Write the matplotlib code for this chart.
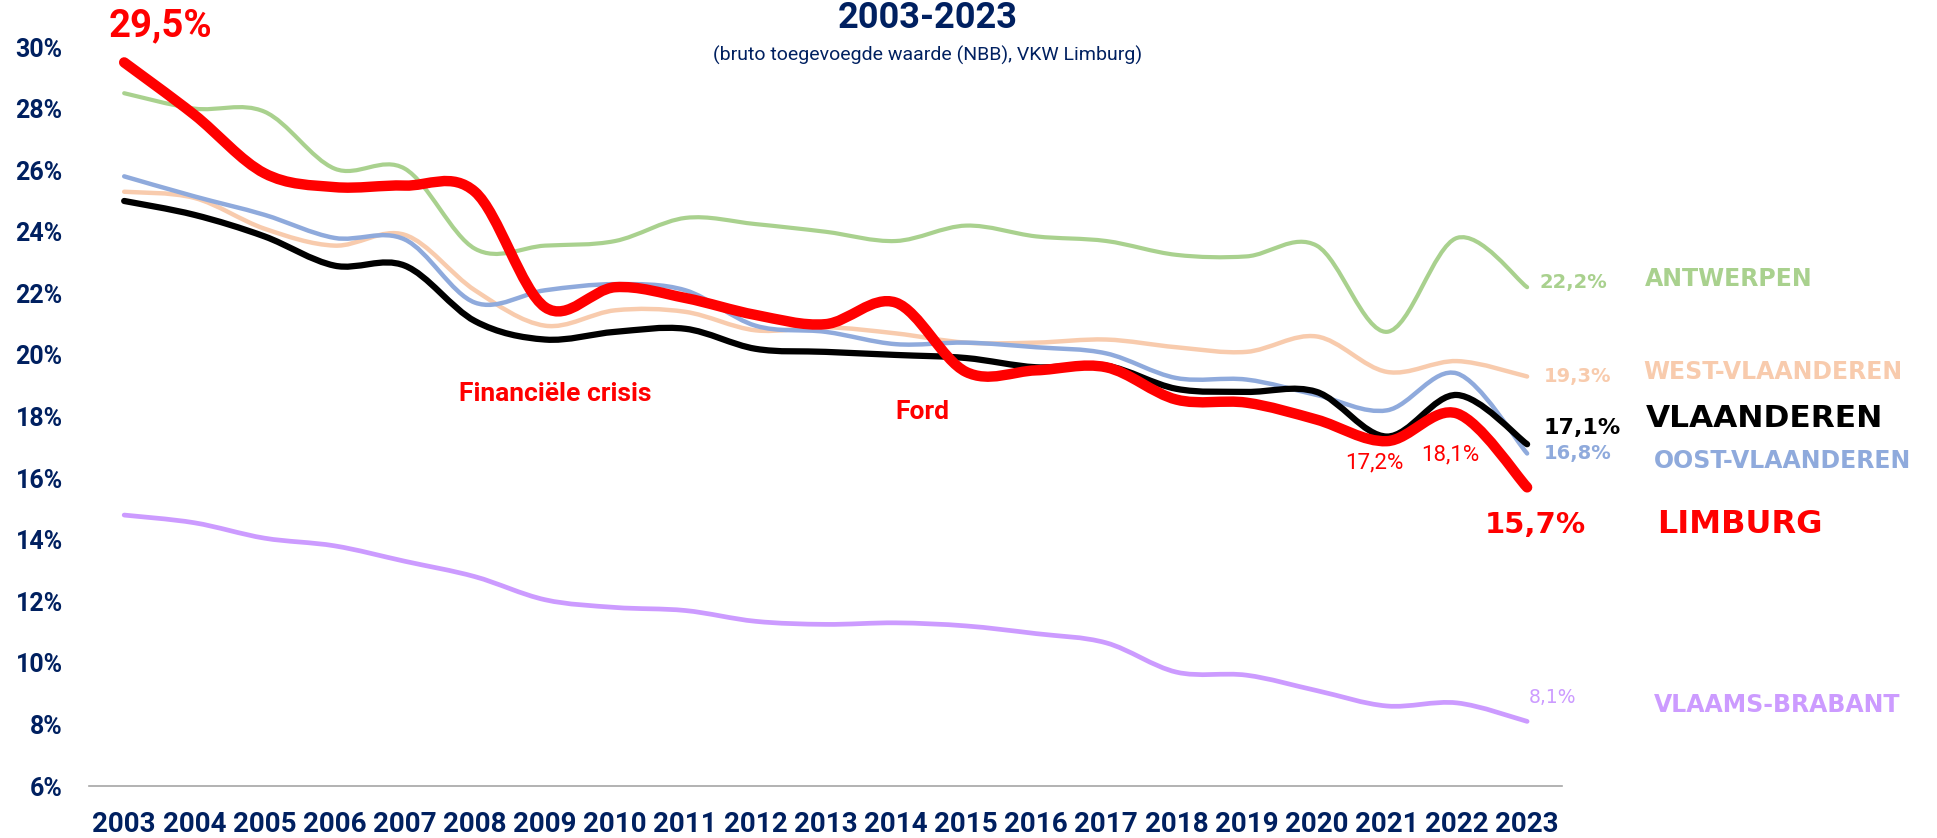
#Librerias
import numpy as np
import matplotlib
matplotlib.use('Agg')
import matplotlib.pyplot as plt
from matplotlib.path import Path
from matplotlib.patches import PathPatch

#Data (aandeel industrie in bruto toegevoegde waarde, %)
jaren = list(range(2003, 2024))
limburg = [29.5, 27.8, 25.9, 25.45, 25.5, 25.3, 21.55, 22.2, 21.85, 21.3, 21.0,
           21.7, 19.45, 19.5, 19.6, 18.55, 18.45, 17.9, 17.2, 18.1, 15.7]
vlaanderen = [25.0, 24.55, 23.85, 22.9, 22.9, 21.1, 20.5, 20.75, 20.85, 20.2, 20.1,
              20.0, 19.9, 19.6, 19.65, 18.9, 18.8, 18.8, 17.35, 18.7, 17.1]
antwerpen = [28.5, 28.0, 27.9, 26.05, 26.05, 23.45, 23.55, 23.7, 24.45, 24.25, 24.0,
             23.7, 24.2, 23.85, 23.7, 23.25, 23.2, 23.55, 20.75, 23.8, 22.2]
oost_vl = [25.8, 25.15, 24.55, 23.8, 23.75, 21.7, 22.1, 22.3, 22.1, 20.95, 20.75,
           20.35, 20.4, 20.25, 20.05, 19.25, 19.2, 18.7, 18.2, 19.4, 16.8]
west_vl = [25.3, 25.1, 24.1, 23.55, 23.9, 22.1, 20.95, 21.45, 21.4, 20.8, 20.9,
           20.7, 20.4, 20.4, 20.5, 20.25, 20.1, 20.6, 19.45, 19.8, 19.3]
vl_brabant = [14.8, 14.55, 14.05, 13.8, 13.3, 12.8, 12.05, 11.8, 11.7, 11.35, 11.25,
              11.3, 11.2, 10.95, 10.65, 9.7, 9.6, 9.1, 8.6, 8.7, 8.1]

y_ticks = [6, 8, 10, 12, 14, 16, 18, 20, 22, 24, 26, 28, 30]
y_labels = [str(t) + '%' for t in y_ticks]

navy = '#002060'
smal = ['Roboto', 'DejaVu Sans']
breed = ['DejaVu Sans']


def gladde_lijn(ax, x, y, kleur, dikte, z):
    # Excel-achtige gladde lijn (bezier door de punten)
    px = np.concatenate([[x[0]], x, [x[-1]]]).astype(float)
    py = np.concatenate([[y[0]], y, [y[-1]]]).astype(float)
    verts = [(px[1], py[1])]
    codes = [Path.MOVETO]
    for i in range(1, len(px) - 2):
        c1 = (px[i] + (px[i + 1] - px[i - 1]) / 6, py[i] + (py[i + 1] - py[i - 1]) / 6)
        c2 = (px[i + 1] - (px[i + 2] - px[i]) / 6, py[i + 1] - (py[i + 2] - py[i]) / 6)
        verts += [c1, c2, (px[i + 1], py[i + 1])]
        codes += [Path.CURVE4] * 3
    ax.add_patch(PathPatch(Path(verts, codes), facecolor='none', edgecolor=kleur,
                           lw=dikte, capstyle='round', joinstyle='round', zorder=z))


fig = plt.figure(figsize=(19.37, 8.38), dpi=100)
ax = fig.add_axes([0.046, 0.062, 0.7605, 0.8819])

gladde_lijn(ax, jaren, vl_brabant, '#CC9BFF', 3.4, 2)
gladde_lijn(ax, jaren, antwerpen, '#A9D18E', 3.0, 3)
gladde_lijn(ax, jaren, west_vl, '#F8CBAD', 3.2, 4)
gladde_lijn(ax, jaren, oost_vl, '#8FAADC', 3.2, 5)
gladde_lijn(ax, jaren, vlaanderen, '#000000', 4.5, 6)
gladde_lijn(ax, jaren, limburg, '#FF0000', 7.5, 7)

ax.set_xlim(2002.5, 2023.5)
ax.set_ylim(6, 30)
ax.set_xticks(jaren)
ax.set_xticklabels([str(j) for j in jaren], fontsize=20, fontweight='bold',
                   color=navy, family=smal)
ax.set_yticks(y_ticks)
ax.set_yticklabels(y_labels, fontsize=18, fontweight='bold', color=navy, family=smal)
ax.tick_params(axis='both', length=0)
ax.tick_params(axis='y', pad=19)
ax.tick_params(axis='x', pad=18)
for s in ['top', 'right', 'left']:
    ax.spines[s].set_visible(False)
ax.spines['bottom'].set_color('#A6A6A6')
ax.spines['bottom'].set_linewidth(1.2)

#Titel
fig.text(0.479, 0.978, '2003-2023', ha='center', va='center', fontsize=26,
         fontweight='bold', color=navy, family=smal)
fig.text(0.479, 0.934, '(bruto toegevoegde waarde (NBB), VKW Limburg)', ha='center',
         va='center', fontsize=14, color=navy, family=smal)

#Waarden bij de punten
def waarde(tekst, x, y, dx, dy, kleur, grootte, ha='left', gewicht='bold', fam=breed):
    ax.annotate(tekst, xy=(x, y), xytext=(dx, dy), textcoords='offset points',
                ha=ha, va='center', fontsize=grootte, fontweight=gewicht,
                color=kleur, family=fam, annotation_clip=False)

waarde('29,5%', jaren[0], limburg[0], 26, 26, '#FF0000', 27.5, ha='center', fam=smal)
waarde('22,2%', jaren[-1], antwerpen[-1], 9, 3.5, '#A9D18E', 14)
waarde('19,3%', jaren[-1], west_vl[-1], 12, 0, '#F8CBAD', 14)
waarde('17,1%', jaren[-1], vlaanderen[-1], 11.5, 11.5, '#000000', 16)
waarde('16,8%', jaren[-1], oost_vl[-1], 12, 0, '#8FAADC', 14)
waarde('15,7%', jaren[-1], limburg[-1], 6, -27, '#FF0000', 21, ha='center')
waarde('8,1%', jaren[-1], vl_brabant[-1], 18, 17, '#CC9BFF', 13.5, ha='center', gewicht='normal')
waarde('17,2%', jaren[18], limburg[18], -9, -16, '#FF0000', 16, ha='center',
       gewicht='normal', fam=smal)
waarde('18,1%', jaren[19], limburg[19], -5, -30, '#FF0000', 16, ha='center',
       gewicht='normal', fam=smal)

#Namen rechts
namen = [('ANTWERPEN', 22.47, 1.056, '#A9D18E', 17),
         ('WEST-VLAANDEREN', 19.45, 1.055, '#F8CBAD', 17),
         ('VLAANDEREN', 17.95, 1.057, '#000000', 22.5),
         ('OOST-VLAANDEREN', 16.56, 1.0625, '#8FAADC', 17),
         ('LIMBURG', 14.48, 1.0645, '#FF0000', 23),
         ('VLAAMS-BRABANT', 8.64, 1.0625, '#CC9BFF', 17)]
for naam, yy, xx, kleur, grootte in namen:
    ax.text(xx, yy, naam, transform=ax.get_yaxis_transform(), ha='left', va='center',
            fontsize=grootte, fontweight='bold', color=kleur, family=breed, clip_on=False)

#Gebeurtenissen
ax.text(2009.14, 18.73, 'Financiële crisis', ha='center', va='center', fontsize=19,
        fontweight='bold', color='#FF0000', family=smal)
ax.text(2014.38, 18.15, 'Ford', ha='center', va='center', fontsize=19,
        fontweight='bold', color='#FF0000', family=smal)

fig.savefig('out.png', dpi=100)
